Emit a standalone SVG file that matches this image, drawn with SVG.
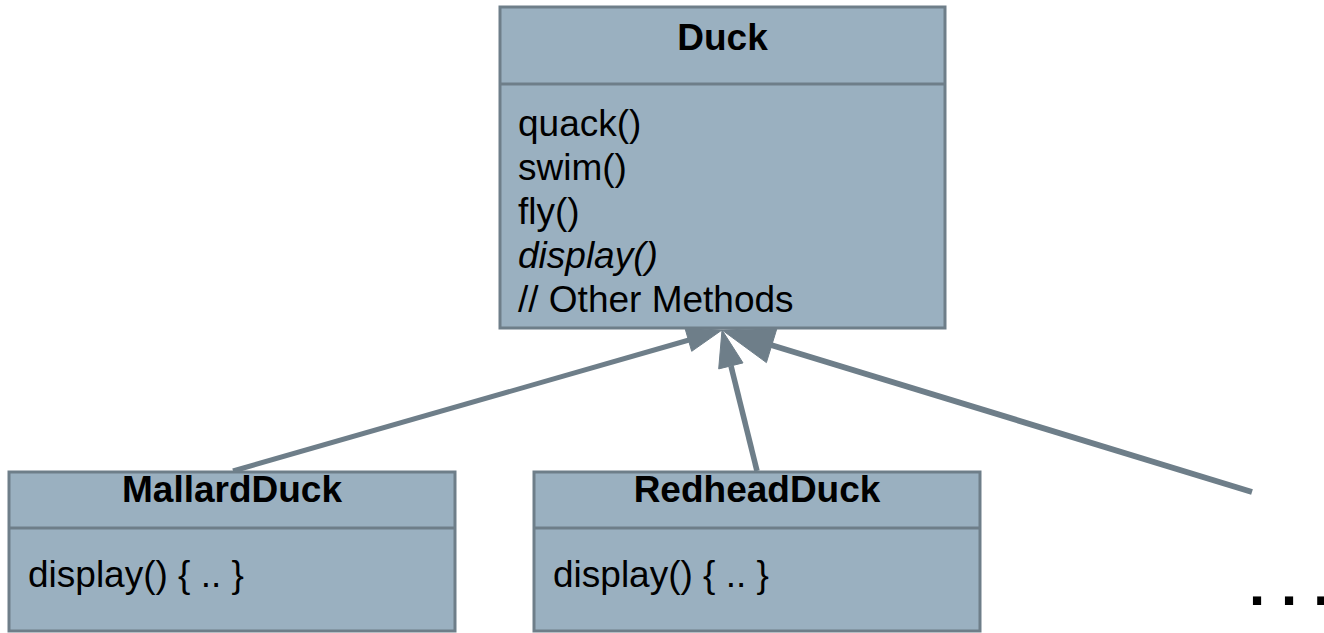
<svg xmlns="http://www.w3.org/2000/svg" width="1324" height="633" viewBox="0 0 1324 633">
<style>
.box{fill:#9ab0c0;stroke:#6e7e89;stroke-width:3}
.div{stroke:#6e7e89;stroke-width:3}
.t{font-family:"Liberation Sans",Arial,sans-serif;font-size:37px;fill:#000}
.b{font-weight:bold;text-anchor:middle}
.i{font-style:italic}
.ln{stroke:#6e7e89;fill:none;stroke-linecap:butt}
.ah{fill:#6e7e89;stroke:#6e7e89;stroke-width:1;stroke-linejoin:miter}
.dots{font-size:58px;font-weight:bold;letter-spacing:16px}
</style>
<rect width="1324" height="633" fill="#ffffff"/>
<g id="connectors">
  <line class="ln" x1="233" y1="471" x2="689" y2="340" stroke-width="5"/>
  <polygon class="ah" points="722,330 691.7,351.3 685.0,328.3"/>
  <line class="ln" x1="757" y1="471" x2="731" y2="366" stroke-width="5.5"/>
  <polygon class="ah" points="722,330 743.0,362.9 718.7,368.9"/>
  <line class="ln" x1="1252" y1="492" x2="771" y2="345" stroke-width="6"/>
  <polygon class="ah" points="722,330 777.0,328.2 766.4,362.6"/>
</g>
<g id="duck">
  <rect class="box" x="500" y="7" width="445" height="321"/>
  <line class="div" x1="500" y1="84" x2="945" y2="84"/>
  <text class="t b" x="722.5" y="50">Duck</text>
  <text class="t" x="518" y="136">quack()</text>
  <text class="t" x="518" y="180">swim()</text>
  <text class="t" x="518" y="224">fly()</text>
  <text class="t i" x="518" y="268">display()</text>
  <text class="t" x="518" y="312">// Other Methods</text>
</g>
<g id="mallardduck">
  <rect class="box" x="9" y="472" width="446" height="159"/>
  <line class="div" x1="9" y1="528" x2="455" y2="528"/>
  <text class="t b" x="232" y="502">MallardDuck</text>
  <text class="t" x="28" y="587">display() { .. }</text>
</g>
<g id="redheadduck">
  <rect class="box" x="534" y="472" width="446" height="159"/>
  <line class="div" x1="534" y1="528" x2="980" y2="528"/>
  <text class="t b" x="757" y="502">RedheadDuck</text>
  <text class="t" x="553" y="587">display() { .. }</text>
</g>
<g id="more">
  <text class="t dots" x="1249" y="605">...</text>
</g>
</svg>
